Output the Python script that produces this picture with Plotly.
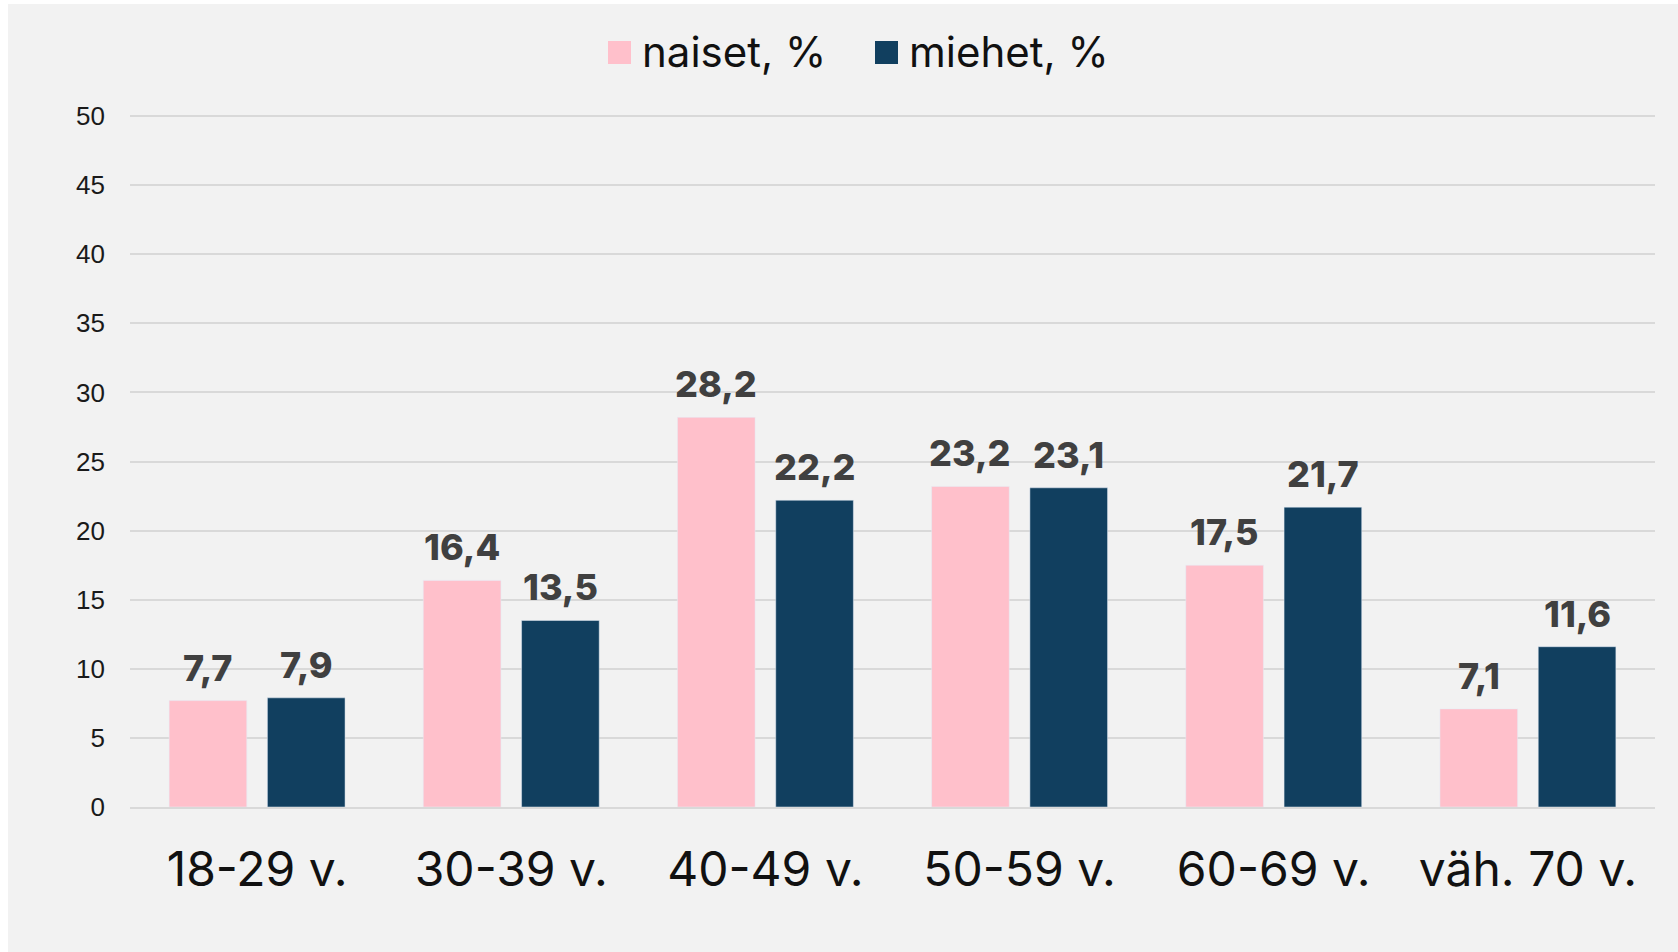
import plotly.graph_objects as go

categories = ["18-29 v.", "30-39 v.", "40-49 v.", "50-59 v.", "60-69 v.", "väh. 70 v."]
naiset = [7.7, 16.4, 28.2, 23.2, 17.5, 7.1]
miehet = [7.9, 13.5, 22.2, 23.1, 21.7, 11.6]
series_names = ["naiset, %", "miehet, %"]
y_ticks = [0, 5, 10, 15, 20, 25, 30, 35, 40, 45, 50]

PINK = "#FFC0CB"
NAVY = "#113F5F"
BG = "#F2F2F2"
BARGAP = 0.2266
BARGROUPGAP = 0.21

def fmt(v):
    return f"{v:.1f}".replace(".", ",")

fig = go.Figure()
series = [(series_names[0], naiset, PINK), (series_names[1], miehet, NAVY)]
for name, vals, col in series:
    fig.add_trace(go.Bar(
        x=categories, y=vals, name=name, marker_color=col, showlegend=False,
    ))

# value labels above each bar (bar centre offset follows the group layout)
slot = (1 - BARGAP) / len(series)
for k, (name, vals, col) in enumerate(series):
    off = (k - (len(series) - 1) / 2) * slot
    for i, v in enumerate(vals):
        fig.add_annotation(x=i + off, y=v, xref="x", yref="y", text=fmt(v),
                           showarrow=False, xanchor="center", yanchor="bottom", yshift=9,
                           font=dict(family="Inter", size=36, color="#404040", weight=800))

W, H = 1670, 948
L, R, T, B = 122, 23, 111, 145
pw, ph = W - L - R, H - T - B

def px_x(p):
    return (p - L) / pw

def px_y(p):
    return 1 + (T - p) / ph

# legend (squares + labels)
legend_items = [(series_names[0], PINK, 600), (series_names[1], NAVY, 867)]
for name, col, x0 in legend_items:
    fig.add_shape(type="rect", xref="paper", yref="paper",
                  x0=px_x(x0), x1=px_x(x0 + 23), y0=px_y(60), y1=px_y(37),
                  fillcolor=col, line_width=0)
    fig.add_annotation(xref="paper", yref="paper", x=px_x(x0 + 32), y=px_y(47),
                       xanchor="left", yanchor="middle", showarrow=False,
                       text=name, font=dict(family="Inter", size=42, color="#111111"))

fig.update_layout(
    width=W, height=H,
    margin=dict(l=L, r=R, t=T, b=B, pad=0),
    paper_bgcolor=BG, plot_bgcolor=BG,
    barmode="group", bargap=BARGAP, bargroupgap=BARGROUPGAP,
    showlegend=False,
)
fig.update_yaxes(range=[0, 50.08], tickvals=y_ticks, showgrid=True, gridcolor="#D9D9D9",
                 gridwidth=1.5, zeroline=False, showline=False, ticks="",
                 ticklabelstandoff=24,
                 tickfont=dict(family="Liberation Sans", size=26, color="#1a1a1a"))
fig.update_xaxes(showline=True, linecolor="#D9D9D9", linewidth=2, ticks="",
                 ticklabelstandoff=19,
                 tickfont=dict(family="Inter", size=48, color="#111111"))

fig.write_html("out.html", post_script="document.body.style.margin='4px 0 0 8px';document.body.style.overflow='hidden';")
